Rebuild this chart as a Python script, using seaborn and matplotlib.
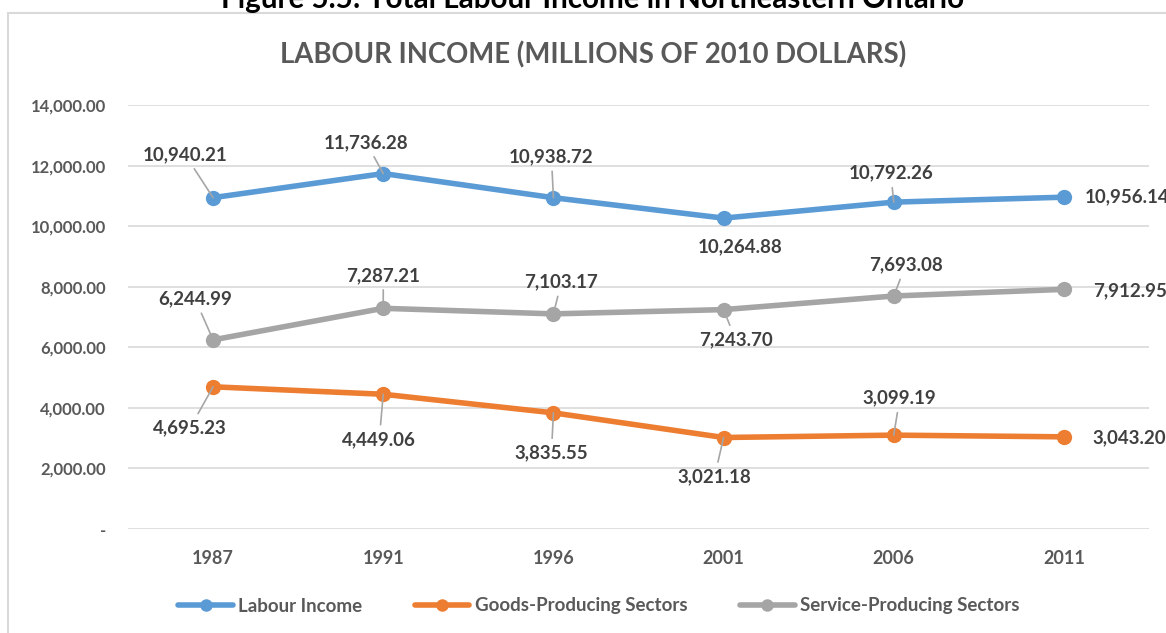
import matplotlib
matplotlib.use("Agg")
import matplotlib.pyplot as plt
from matplotlib.patches import Rectangle
from matplotlib.ticker import FuncFormatter
import seaborn as sns
import pandas as pd

# Labour income, millions of 2010 dollars
years = ["1987", "1991", "1996", "2001", "2006", "2011"]
labour_income = [10940.21, 11736.28, 10938.72, 10264.88, 10792.26, 10956.14]
goods_producing = [4695.23, 4449.06, 3835.55, 3021.18, 3099.19, 3043.20]
service_producing = [6244.99, 7287.21, 7103.17, 7243.70, 7693.08, 7912.95]
series_names = ["Labour Income", "Goods-Producing Sectors", "Service-Producing Sectors"]
y_ticks = [0, 2000, 4000, 6000, 8000, 10000, 12000, 14000]

colors = {"Labour Income": "#5B9BD5",
          "Goods-Producing Sectors": "#ED7D31",
          "Service-Producing Sectors": "#A5A5A5"}

# label offsets in pixels (dx, dy, leader line?) for each point
label_offsets = {
    "Labour Income": [(-28, 43, True), (-17, 31, True), (-2, 41, True),
                      (17, -29, False), (-3, 29, True), ("r", 0, False)],
    "Service-Producing Sectors": [(-18, 41, True), (0, 33, True), (8, 32, True),
                                  (12, -30, True), (12, 31, True), ("r", -1, False)],
    "Goods-Producing Sectors": [(-23, -41, True), (-4, -45, True), (-2, -40, True),
                                (-9, -39, True), (6, 37, True), ("r", -1, False)],
}
right_label_x = {"Labour Income": 21, "Service-Producing Sectors": 29,
                 "Goods-Producing Sectors": 29}

frames = []
for name, vals in zip(series_names, [labour_income, goods_producing, service_producing]):
    frames.append(pd.DataFrame({"year": years, "value": vals, "series": name}))
df = pd.concat(frames, ignore_index=True)

sns.set_theme(style="white")
plt.rcParams["font.family"] = ["Lato", "DejaVu Sans"]

fig = plt.figure(figsize=(11.66, 6.33), dpi=100)
ax = fig.add_axes([128 / 1166, 1 - 529 / 633, (1149 - 128) / 1166, (529 - 105) / 633])

# chart area border
fig.patches.append(Rectangle((8 / 1166, -0.2), 1.5, 1.2 - 13 / 633,
                             transform=fig.transFigure, fill=False,
                             edgecolor="#D9D9D9", linewidth=1.5, zorder=0))

ax.set_axisbelow(True)
sns.lineplot(data=df, x="year", y="value", hue="series", hue_order=series_names,
             palette=colors, marker="o", markersize=11, markeredgewidth=0,
             linewidth=4, sort=False, ax=ax, legend=False)

ax.set_xlim(-0.5, 5.5)
ax.set_ylim(0, 14000)
ax.set_yticks(y_ticks)
ax.yaxis.set_major_formatter(FuncFormatter(lambda v, p: "-" if v == 0 else f"{v:,.2f}"))
ax.grid(axis="y", color="#D9D9D9", linewidth=1.2)
ax.grid(axis="x", visible=False)
for s in ax.spines.values():
    s.set_visible(False)
ax.tick_params(axis="y", length=0, pad=16, labelsize=12, labelcolor="#595959")
ax.tick_params(axis="x", length=0, pad=15, labelsize=13, labelcolor="#595959")
for lab in ax.get_xticklabels() + ax.get_yticklabels():
    lab.set_fontweight("bold")
ax.set_xlabel("")
ax.set_ylabel("")

# data labels
for name, vals in zip(series_names, [labour_income, goods_producing, service_producing]):
    for i, v in enumerate(vals):
        dx, dy, leader = label_offsets[name][i]
        txt = f"{v:,.2f}"
        if dx == "r":
            ax.annotate(txt, xy=(i, v), xytext=(right_label_x[name], dy),
                        textcoords="offset pixels", ha="left", va="center",
                        fontsize=13.5, fontweight="bold", color="#404040",
                        annotation_clip=False)
        else:
            kw = {}
            if leader:
                kw["arrowprops"] = dict(arrowstyle="-", color="#A6A6A6", lw=1.2,
                                        shrinkA=2, shrinkB=0)
            ax.annotate(txt, xy=(i, v), xytext=(dx, dy), textcoords="offset pixels",
                        ha="center", va="center", fontsize=13.5, fontweight="bold",
                        color="#404040", **kw)

# titles
fig.text(593 / 1166, 1 + 1 / 633, "Figure 5.5: Total Labour Income in Northeastern Ontario",
         ha="center", va="center", fontsize=21.3, fontweight="bold", color="black")
fig.text(593 / 1166, 1 - 55 / 633, "LABOUR INCOME (MILLIONS OF 2010 DOLLARS)",
         ha="center", va="center", fontsize=19.8, fontweight="bold", color="#595959")

# legend
handles = [plt.Line2D([], [], color=colors[n], marker="o", markersize=9,
                      markeredgewidth=0, linewidth=4) for n in series_names]
leg = fig.legend(handles, series_names, loc="center",
                 bbox_to_anchor=(599 / 1166, 1 - 606 / 633),
                 ncol=3, frameon=False, handlelength=2.9, handletextpad=0.3,
                 columnspacing=2.8,
                 prop={"family": ["Lato"], "size": 13.5, "weight": "bold"})
for t in leg.get_texts():
    t.set_color("#595959")

fig.savefig("out.png", dpi=100)
